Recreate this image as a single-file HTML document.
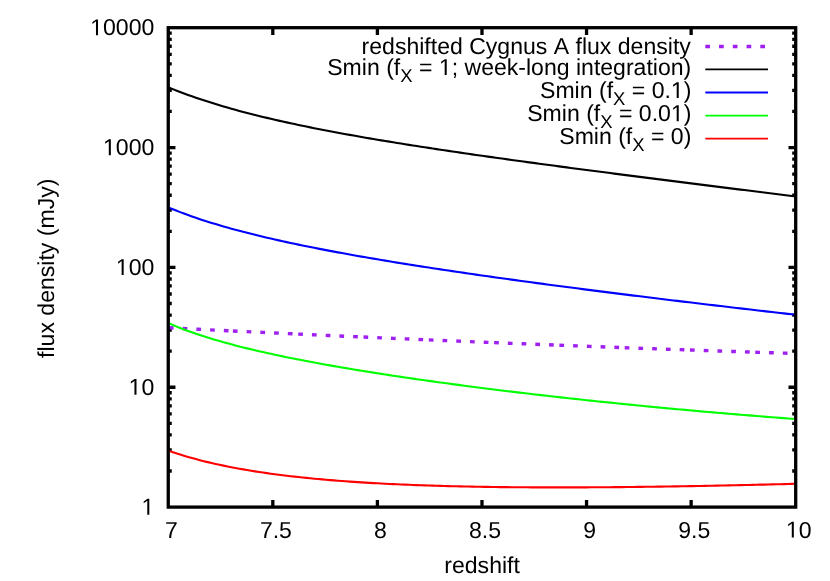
<!DOCTYPE html>
<html><head><meta charset="utf-8"><title>flux density vs redshift</title>
<style>html,body{margin:0;padding:0;background:#fff;}body{width:830px;height:581px;overflow:hidden;}svg{display:block;will-change:transform;}text{font-kerning:none;white-space:pre;}</style></head>
<body>
<svg width="830" height="581" viewBox="0 0 830 581">
<rect width="830" height="581" fill="#fff"/>
<path d="M272.82,507.1v-7.2M272.82,27.7v7.2M377.40,507.1v-7.2M377.40,27.7v7.2M481.98,507.1v-7.2M481.98,27.7v7.2M586.55,507.1v-7.2M586.55,27.7v7.2M691.13,507.1v-7.2M691.13,27.7v7.2M168.25,471.02h3.5M795.7,471.02h-3.5M168.25,449.92h3.5M795.7,449.92h-3.5M168.25,434.94h3.5M795.7,434.94h-3.5M168.25,423.33h3.5M795.7,423.33h-3.5M168.25,413.84h3.5M795.7,413.84h-3.5M168.25,405.81h3.5M795.7,405.81h-3.5M168.25,398.86h3.5M795.7,398.86h-3.5M168.25,392.73h3.5M795.7,392.73h-3.5M168.25,387.25h7.2M795.7,387.25h-7.2M168.25,351.17h3.5M795.7,351.17h-3.5M168.25,330.07h3.5M795.7,330.07h-3.5M168.25,315.09h3.5M795.7,315.09h-3.5M168.25,303.48h3.5M795.7,303.48h-3.5M168.25,293.99h3.5M795.7,293.99h-3.5M168.25,285.96h3.5M795.7,285.96h-3.5M168.25,279.01h3.5M795.7,279.01h-3.5M168.25,272.88h3.5M795.7,272.88h-3.5M168.25,267.40h7.2M795.7,267.40h-7.2M168.25,231.32h3.5M795.7,231.32h-3.5M168.25,210.22h3.5M795.7,210.22h-3.5M168.25,195.24h3.5M795.7,195.24h-3.5M168.25,183.63h3.5M795.7,183.63h-3.5M168.25,174.14h3.5M795.7,174.14h-3.5M168.25,166.11h3.5M795.7,166.11h-3.5M168.25,159.16h3.5M795.7,159.16h-3.5M168.25,153.03h3.5M795.7,153.03h-3.5M168.25,147.55h7.2M795.7,147.55h-7.2M168.25,111.47h3.5M795.7,111.47h-3.5M168.25,90.37h3.5M795.7,90.37h-3.5M168.25,75.39h3.5M795.7,75.39h-3.5M168.25,63.78h3.5M795.7,63.78h-3.5M168.25,54.29h3.5M795.7,54.29h-3.5M168.25,46.26h3.5M795.7,46.26h-3.5M168.25,39.31h3.5M795.7,39.31h-3.5M168.25,33.18h3.5M795.7,33.18h-3.5" stroke="#000" stroke-width="3.3" fill="none"/>
<g fill="none" stroke="#a020f0" stroke-width="3.4" stroke-dasharray="4.7 9.05">
<path d="M168.90,327.81 L174.72,328.10 L180.54,328.39 L186.35,328.68 L192.17,328.97 L197.99,329.26 L203.81,329.55 L209.63,329.84 L215.45,330.12 L221.26,330.41 L227.08,330.69 L232.90,330.98"/>
<path d="M232.90,330.98 L238.84,331.26 L244.77,331.55 L250.71,331.84 L256.65,332.12 L262.58,332.40 L268.52,332.69 L274.45,332.97 L280.39,333.25 L286.33,333.53 L292.26,333.81 L298.20,334.08"/>
<path d="M298.20,334.08 L304.14,334.36 L310.07,334.63 L316.01,334.91 L321.95,335.18 L327.88,335.45 L333.82,335.72 L339.75,335.99 L345.69,336.26 L351.63,336.53 L357.56,336.79 L363.50,337.06"/>
<path d="M363.50,337.06 L369.44,337.32 L375.37,337.59 L381.31,337.85 L387.25,338.11 L393.18,338.37 L399.12,338.63 L405.05,338.89 L410.99,339.14 L416.93,339.40 L422.86,339.65 L428.80,339.91"/>
<path d="M428.80,339.91 L434.74,340.16 L440.67,340.41 L446.61,340.66 L452.55,340.91 L458.48,341.16 L464.42,341.41 L470.35,341.65 L476.29,341.90 L482.23,342.14 L488.16,342.38 L494.10,342.63"/>
<path d="M494.10,342.63 L500.04,342.87 L505.97,343.11 L511.91,343.35 L517.85,343.58 L523.78,343.82 L529.72,344.05 L535.65,344.29 L541.59,344.52 L547.53,344.75 L553.46,344.99 L559.40,345.22"/>
<path d="M559.40,345.22 L565.34,345.45 L571.27,345.67 L577.21,345.90 L583.15,346.13 L589.08,346.35 L595.02,346.57 L600.95,346.80 L606.89,347.02 L612.83,347.24 L618.76,347.46 L624.70,347.68"/>
<path d="M624.70,347.68 L630.64,347.89 L636.57,348.11 L642.51,348.33 L648.45,348.54 L654.38,348.75 L660.32,348.97 L666.25,349.18 L672.19,349.39 L678.13,349.59 L684.06,349.80 L690.00,350.01"/>
<path d="M690.00,350.01 L695.94,350.21 L701.87,350.42 L707.81,350.62 L713.75,350.83 L719.68,351.03 L725.62,351.23 L731.55,351.43 L737.49,351.62 L743.43,351.82 L749.36,352.02 L755.30,352.21"/>
<path d="M755.30,352.21 L758.97,352.33 L762.65,352.45 L766.32,352.57 L769.99,352.69 L773.66,352.81 L777.34,352.93 L781.01,353.04 L784.68,353.16 L788.35,353.28 L792.03,353.39 L795.70,353.51"/>
</g>
<g fill="none" stroke-width="2.1" stroke-linejoin="round">
<path d="M168.25,87.24 L172.20,88.86 L176.14,90.43 L180.09,91.96 L184.03,93.45 L187.98,94.90 L191.93,96.32 L195.87,97.69 L199.82,99.04 L203.77,100.35 L207.71,101.62 L211.66,102.87 L215.60,104.10 L219.55,105.29 L223.50,106.46 L227.44,107.60 L231.39,108.72 L235.34,109.82 L239.28,110.89 L243.23,111.95 L247.17,112.98 L251.12,114.00 L255.07,114.99 L259.01,115.97 L262.96,116.94 L266.91,117.88 L270.85,118.81 L274.80,119.73 L278.74,120.63 L282.69,121.51 L286.64,122.39 L290.58,123.25 L294.53,124.09 L298.48,124.93 L302.42,125.75 L306.37,126.57 L310.31,127.37 L314.26,128.16 L318.21,128.94 L322.15,129.72 L326.10,130.48 L330.05,131.23 L333.99,131.98 L337.94,132.72 L341.88,133.45 L345.83,134.17 L349.78,134.88 L353.72,135.59 L357.67,136.29 L361.62,136.98 L365.56,137.67 L369.51,138.35 L373.45,139.02 L377.40,139.69 L381.35,140.35 L385.29,141.01 L389.24,141.66 L393.18,142.30 L397.13,142.94 L401.08,143.58 L405.02,144.21 L408.97,144.84 L412.92,145.46 L416.86,146.08 L420.81,146.69 L424.75,147.30 L428.70,147.91 L432.65,148.51 L436.59,149.11 L440.54,149.70 L444.49,150.30 L448.43,150.88 L452.38,151.47 L456.32,152.05 L460.27,152.63 L464.22,153.21 L468.16,153.78 L472.11,154.35 L476.06,154.92 L480.00,155.48 L483.95,156.04 L487.89,156.60 L491.84,157.16 L495.79,157.72 L499.73,158.27 L503.68,158.82 L507.63,159.37 L511.57,159.92 L515.52,160.46 L519.46,161.01 L523.41,161.55 L527.36,162.09 L531.30,162.62 L535.25,163.16 L539.20,163.69 L543.14,164.23 L547.09,164.76 L551.03,165.29 L554.98,165.82 L558.93,166.34 L562.87,166.87 L566.82,167.39 L570.77,167.92 L574.71,168.44 L578.66,168.96 L582.60,169.48 L586.55,169.99 L590.50,170.51 L594.44,171.03 L598.39,171.54 L602.33,172.06 L606.28,172.57 L610.23,173.08 L614.17,173.59 L618.12,174.10 L622.07,174.61 L626.01,175.12 L629.96,175.63 L633.90,176.13 L637.85,176.64 L641.80,177.14 L645.74,177.65 L649.69,178.15 L653.64,178.66 L657.58,179.16 L661.53,179.66 L665.47,180.16 L669.42,180.66 L673.37,181.16 L677.31,181.66 L681.26,182.16 L685.21,182.66 L689.15,183.16 L693.10,183.65 L697.04,184.15 L700.99,184.65 L704.94,185.14 L708.88,185.64 L712.83,186.13 L716.78,186.63 L720.72,187.12 L724.67,187.62 L728.61,188.11 L732.56,188.60 L736.51,189.10 L740.45,189.59 L744.40,190.08 L748.35,190.57 L752.29,191.07 L756.24,191.56 L760.18,192.05 L764.13,192.54 L768.08,193.03 L772.02,193.52 L775.97,194.01 L779.92,194.50 L783.86,194.99 L787.81,195.48 L791.75,195.97 L795.70,196.46" stroke="#000"/>
<path d="M168.25,207.40 L172.20,209.03 L176.14,210.60 L180.09,212.12 L184.03,213.60 L187.98,215.04 L191.93,216.44 L195.87,217.80 L199.82,219.13 L203.77,220.42 L207.71,221.68 L211.66,222.91 L215.60,224.11 L219.55,225.29 L223.50,226.44 L227.44,227.56 L231.39,228.66 L235.34,229.74 L239.28,230.80 L243.23,231.83 L247.17,232.85 L251.12,233.85 L255.07,234.83 L259.01,235.79 L262.96,236.74 L266.91,237.67 L270.85,238.58 L274.80,239.48 L278.74,240.37 L282.69,241.25 L286.64,242.11 L290.58,242.96 L294.53,243.80 L298.48,244.62 L302.42,245.44 L306.37,246.25 L310.31,247.04 L314.26,247.83 L318.21,248.60 L322.15,249.37 L326.10,250.13 L330.05,250.88 L333.99,251.62 L337.94,252.36 L341.88,253.08 L345.83,253.80 L349.78,254.51 L353.72,255.22 L357.67,255.92 L361.62,256.61 L365.56,257.30 L369.51,257.98 L373.45,258.65 L377.40,259.32 L381.35,259.99 L385.29,260.64 L389.24,261.30 L393.18,261.94 L397.13,262.59 L401.08,263.23 L405.02,263.86 L408.97,264.49 L412.92,265.11 L416.86,265.74 L420.81,266.35 L424.75,266.97 L428.70,267.57 L432.65,268.18 L436.59,268.78 L440.54,269.38 L444.49,269.97 L448.43,270.56 L452.38,271.15 L456.32,271.74 L460.27,272.32 L464.22,272.90 L468.16,273.47 L472.11,274.04 L476.06,274.61 L480.00,275.18 L483.95,275.74 L487.89,276.30 L491.84,276.86 L495.79,277.42 L499.73,277.97 L503.68,278.52 L507.63,279.07 L511.57,279.62 L515.52,280.16 L519.46,280.70 L523.41,281.24 L527.36,281.78 L531.30,282.31 L535.25,282.85 L539.20,283.38 L543.14,283.90 L547.09,284.43 L551.03,284.96 L554.98,285.48 L558.93,286.00 L562.87,286.52 L566.82,287.04 L570.77,287.55 L574.71,288.07 L578.66,288.58 L582.60,289.09 L586.55,289.60 L590.50,290.11 L594.44,290.61 L598.39,291.12 L602.33,291.62 L606.28,292.12 L610.23,292.62 L614.17,293.12 L618.12,293.61 L622.07,294.11 L626.01,294.60 L629.96,295.10 L633.90,295.59 L637.85,296.08 L641.80,296.57 L645.74,297.05 L649.69,297.54 L653.64,298.02 L657.58,298.51 L661.53,298.99 L665.47,299.47 L669.42,299.95 L673.37,300.43 L677.31,300.90 L681.26,301.38 L685.21,301.86 L689.15,302.33 L693.10,302.80 L697.04,303.27 L700.99,303.74 L704.94,304.21 L708.88,304.68 L712.83,305.15 L716.78,305.62 L720.72,306.08 L724.67,306.54 L728.61,307.01 L732.56,307.47 L736.51,307.93 L740.45,308.39 L744.40,308.85 L748.35,309.31 L752.29,309.77 L756.24,310.22 L760.18,310.68 L764.13,311.13 L768.08,311.59 L772.02,312.04 L775.97,312.49 L779.92,312.94 L783.86,313.39 L787.81,313.84 L791.75,314.29 L795.70,314.74" stroke="#0000ff"/>
<path d="M168.25,323.05 L172.20,324.74 L176.14,326.37 L180.09,327.93 L184.03,329.45 L187.98,330.91 L191.93,332.32 L195.87,333.68 L199.82,335.01 L203.77,336.29 L207.71,337.54 L211.66,338.75 L215.60,339.93 L219.55,341.08 L223.50,342.20 L227.44,343.29 L231.39,344.36 L235.34,345.40 L239.28,346.41 L243.23,347.41 L247.17,348.38 L251.12,349.34 L255.07,350.27 L259.01,351.19 L262.96,352.09 L266.91,352.97 L270.85,353.84 L274.80,354.69 L278.74,355.53 L282.69,356.36 L286.64,357.17 L290.58,357.97 L294.53,358.76 L298.48,359.54 L302.42,360.31 L306.37,361.06 L310.31,361.81 L314.26,362.55 L318.21,363.27 L322.15,363.99 L326.10,364.70 L330.05,365.40 L333.99,366.10 L337.94,366.78 L341.88,367.46 L345.83,368.13 L349.78,368.80 L353.72,369.45 L357.67,370.10 L361.62,370.75 L365.56,371.38 L369.51,372.02 L373.45,372.64 L377.40,373.26 L381.35,373.87 L385.29,374.48 L389.24,375.09 L393.18,375.69 L397.13,376.28 L401.08,376.87 L405.02,377.45 L408.97,378.03 L412.92,378.60 L416.86,379.17 L420.81,379.74 L424.75,380.30 L428.70,380.85 L432.65,381.40 L436.59,381.95 L440.54,382.50 L444.49,383.03 L448.43,383.57 L452.38,384.10 L456.32,384.63 L460.27,385.15 L464.22,385.67 L468.16,386.19 L472.11,386.70 L476.06,387.21 L480.00,387.72 L483.95,388.22 L487.89,388.72 L491.84,389.22 L495.79,389.71 L499.73,390.20 L503.68,390.68 L507.63,391.17 L511.57,391.65 L515.52,392.12 L519.46,392.59 L523.41,393.06 L527.36,393.53 L531.30,394.00 L535.25,394.46 L539.20,394.91 L543.14,395.37 L547.09,395.82 L551.03,396.27 L554.98,396.71 L558.93,397.16 L562.87,397.60 L566.82,398.03 L570.77,398.47 L574.71,398.90 L578.66,399.33 L582.60,399.76 L586.55,400.18 L590.50,400.60 L594.44,401.02 L598.39,401.43 L602.33,401.85 L606.28,402.26 L610.23,402.66 L614.17,403.07 L618.12,403.47 L622.07,403.87 L626.01,404.27 L629.96,404.66 L633.90,405.05 L637.85,405.44 L641.80,405.83 L645.74,406.21 L649.69,406.59 L653.64,406.97 L657.58,407.35 L661.53,407.72 L665.47,408.09 L669.42,408.46 L673.37,408.83 L677.31,409.19 L681.26,409.56 L685.21,409.92 L689.15,410.27 L693.10,410.63 L697.04,410.98 L700.99,411.33 L704.94,411.68 L708.88,412.02 L712.83,412.37 L716.78,412.71 L720.72,413.05 L724.67,413.38 L728.61,413.72 L732.56,414.05 L736.51,414.38 L740.45,414.70 L744.40,415.03 L748.35,415.35 L752.29,415.67 L756.24,415.99 L760.18,416.31 L764.13,416.62 L768.08,416.93 L772.02,417.24 L775.97,417.55 L779.92,417.85 L783.86,418.15 L787.81,418.46 L791.75,418.75 L795.70,419.05" stroke="#00ff00"/>
<path d="M168.25,450.59 L172.20,451.96 L176.14,453.27 L180.09,454.53 L184.03,455.74 L187.98,456.91 L191.93,458.03 L195.87,459.11 L199.82,460.15 L203.77,461.15 L207.71,462.12 L211.66,463.05 L215.60,463.95 L219.55,464.81 L223.50,465.65 L227.44,466.45 L231.39,467.23 L235.34,467.98 L239.28,468.70 L243.23,469.40 L247.17,470.08 L251.12,470.73 L255.07,471.37 L259.01,471.98 L262.96,472.57 L266.91,473.14 L270.85,473.69 L274.80,474.22 L278.74,474.74 L282.69,475.23 L286.64,475.72 L290.58,476.18 L294.53,476.63 L298.48,477.07 L302.42,477.49 L306.37,477.90 L310.31,478.29 L314.26,478.68 L318.21,479.05 L322.15,479.40 L326.10,479.75 L330.05,480.08 L333.99,480.40 L337.94,480.72 L341.88,481.02 L345.83,481.31 L349.78,481.59 L353.72,481.86 L357.67,482.13 L361.62,482.38 L365.56,482.63 L369.51,482.86 L373.45,483.09 L377.40,483.31 L381.35,483.52 L385.29,483.73 L389.24,483.93 L393.18,484.12 L397.13,484.30 L401.08,484.47 L405.02,484.64 L408.97,484.81 L412.92,484.96 L416.86,485.11 L420.81,485.26 L424.75,485.40 L428.70,485.53 L432.65,485.66 L436.59,485.78 L440.54,485.90 L444.49,486.01 L448.43,486.11 L452.38,486.21 L456.32,486.31 L460.27,486.40 L464.22,486.49 L468.16,486.57 L472.11,486.65 L476.06,486.72 L480.00,486.79 L483.95,486.86 L487.89,486.92 L491.84,486.98 L495.79,487.03 L499.73,487.08 L503.68,487.12 L507.63,487.17 L511.57,487.21 L515.52,487.24 L519.46,487.27 L523.41,487.30 L527.36,487.32 L531.30,487.35 L535.25,487.36 L539.20,487.38 L543.14,487.39 L547.09,487.40 L551.03,487.41 L554.98,487.41 L558.93,487.41 L562.87,487.41 L566.82,487.41 L570.77,487.40 L574.71,487.39 L578.66,487.38 L582.60,487.36 L586.55,487.34 L590.50,487.32 L594.44,487.30 L598.39,487.28 L602.33,487.25 L606.28,487.22 L610.23,487.19 L614.17,487.15 L618.12,487.12 L622.07,487.08 L626.01,487.04 L629.96,487.00 L633.90,486.96 L637.85,486.91 L641.80,486.86 L645.74,486.81 L649.69,486.76 L653.64,486.71 L657.58,486.65 L661.53,486.60 L665.47,486.54 L669.42,486.48 L673.37,486.41 L677.31,486.35 L681.26,486.29 L685.21,486.22 L689.15,486.15 L693.10,486.08 L697.04,486.01 L700.99,485.93 L704.94,485.86 L708.88,485.78 L712.83,485.71 L716.78,485.63 L720.72,485.55 L724.67,485.47 L728.61,485.38 L732.56,485.30 L736.51,485.21 L740.45,485.13 L744.40,485.04 L748.35,484.95 L752.29,484.86 L756.24,484.77 L760.18,484.67 L764.13,484.58 L768.08,484.48 L772.02,484.39 L775.97,484.29 L779.92,484.19 L783.86,484.09 L787.81,483.99 L791.75,483.89 L795.70,483.78" stroke="#ff0000"/>
</g>
<rect x="168.25" y="27.7" width="627.45" height="479.40" fill="none" stroke="#000" stroke-width="3.3"/>
<g font-family="'Liberation Sans', sans-serif" font-size="23.06px" fill="#000" text-rendering="geometricPrecision">
<path d="M515 0V1237L197 1010V1180L530 1409H696V0Z" transform="translate(141.48,514.70) scale(0.011260,-0.011260)"/>
<path d="M515 0V1237L197 1010V1180L530 1409H696V0Z" transform="translate(128.65,394.85) scale(0.011260,-0.011260)"/>
<text x="141.48" y="394.85" xml:space="preserve">0</text>
<path d="M515 0V1237L197 1010V1180L530 1409H696V0Z" transform="translate(115.83,275.00) scale(0.011260,-0.011260)"/>
<text x="128.65" y="275.00" xml:space="preserve">00</text>
<path d="M515 0V1237L197 1010V1180L530 1409H696V0Z" transform="translate(103.00,155.15) scale(0.011260,-0.011260)"/>
<text x="115.83" y="155.15" xml:space="preserve">000</text>
<path d="M515 0V1237L197 1010V1180L530 1409H696V0Z" transform="translate(90.18,35.30) scale(0.011260,-0.011260)"/>
<text x="103.00" y="35.30" xml:space="preserve">0000</text>
<text x="164.94" y="537.50" xml:space="preserve">7</text>
<text x="259.90" y="537.50" xml:space="preserve">7.5</text>
<text x="374.09" y="537.50" xml:space="preserve">8</text>
<text x="469.05" y="537.50" xml:space="preserve">8.5</text>
<text x="583.24" y="537.50" xml:space="preserve">9</text>
<text x="678.20" y="537.50" xml:space="preserve">9.5</text>
<path d="M515 0V1237L197 1010V1180L530 1409H696V0Z" transform="translate(785.98,537.50) scale(0.011260,-0.011260)"/>
<text x="798.80" y="537.50" xml:space="preserve">0</text>
<text x="482.1" y="572.8" text-anchor="middle">redshift</text>
<text transform="translate(54.0,268.3) rotate(-90)" text-anchor="middle">flux density (mJy)</text>
<text x="361.58" y="54.00" xml:space="preserve">redshifted Cygnus A flux density</text>
<text x="327.26" y="75.00" xml:space="preserve">Smin (f</text>
<text x="400.29" y="82.00" font-size="18.45px" xml:space="preserve">X</text>
<text x="412.60" y="75.00" xml:space="preserve"> = </text>
<path d="M515 0V1237L197 1010V1180L530 1409H696V0Z" transform="translate(438.88,75.00) scale(0.011260,-0.011260)"/>
<text x="451.70" y="75.00" xml:space="preserve">; week-long integration)</text>
<text x="540.05" y="98.10" xml:space="preserve">Smin (f</text>
<text x="613.08" y="105.10" font-size="18.45px" xml:space="preserve">X</text>
<text x="625.38" y="98.10" xml:space="preserve"> = 0.</text>
<path d="M515 0V1237L197 1010V1180L530 1409H696V0Z" transform="translate(670.90,98.10) scale(0.011260,-0.011260)"/>
<text x="683.72" y="98.10" xml:space="preserve">)</text>
<text x="527.22" y="121.20" xml:space="preserve">Smin (f</text>
<text x="600.25" y="128.20" font-size="18.45px" xml:space="preserve">X</text>
<text x="612.56" y="121.20" xml:space="preserve"> = 0.0</text>
<path d="M515 0V1237L197 1010V1180L530 1409H696V0Z" transform="translate(670.90,121.20) scale(0.011260,-0.011260)"/>
<text x="683.72" y="121.20" xml:space="preserve">)</text>
<text x="559.28" y="144.20" xml:space="preserve">Smin (f</text>
<text x="632.31" y="151.20" font-size="18.45px" xml:space="preserve">X</text>
<text x="644.62" y="144.20" xml:space="preserve"> = 0)</text>
</g>
<path d="M705.3,46.55H768.0" stroke="#a020f0" stroke-width="3.4" stroke-dasharray="4.7 9.05" fill="none"/>
<path d="M705.3,69.4H768.0" stroke="#000" stroke-width="1.9" fill="none"/>
<path d="M705.3,92.5H768.0" stroke="#0000ff" stroke-width="1.9" fill="none"/>
<path d="M705.3,115.6H768.0" stroke="#00ff00" stroke-width="1.9" fill="none"/>
<path d="M705.3,138.6H768.0" stroke="#ff0000" stroke-width="1.9" fill="none"/>
</svg>
</body></html>
